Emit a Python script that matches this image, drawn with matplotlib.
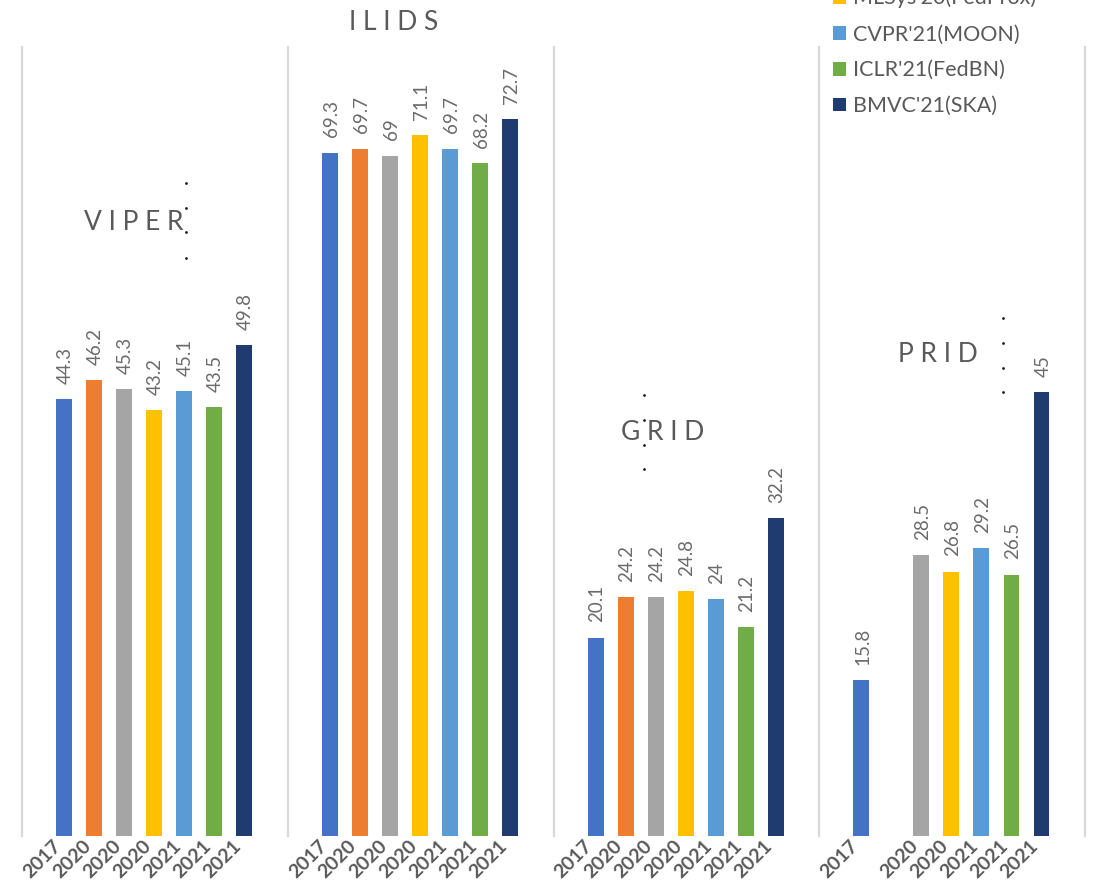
import numpy as np
import matplotlib
matplotlib.use("Agg")
import matplotlib.pyplot as plt
from matplotlib.patches import Patch

plt.rcParams['font.family'] = ['Lato', 'DejaVu Sans']

# data
datasets = ['VIPER', 'ILIDS', 'GRID', 'PRID']
years = ['2017', '2020', '2020', '2020', '2021', '2021', '2021']
viper = [44.3, 46.2, 45.3, 43.2, 45.1, 43.5, 49.8]
ilids = [69.3, 69.7, 69, 71.1, 69.7, 68.2, 72.7]
grid = [20.1, 24.2, 24.2, 24.8, 24, 21.2, 32.2]
prid = [15.8, np.nan, 28.5, 26.8, 29.2, 26.5, 45]
values = [viper, ilids, grid, prid]

colors = ['#4472C4', '#ED7D31', '#A5A5A5', '#FFC000', '#5B9BD5', '#70AD47', '#1F3B70']
legend_labels = ["MLSys'20(FedProx)", "CVPR'21(MOON)", "ICLR'21(FedBN)", "BMVC'21(SKA)"]

# title placement (axes fraction) and the little dotted marks next to some titles
title_pos = [(0.42, 0.778), (0.397, 1.031), (0.41, 0.511), (0.446, 0.61)]
dots = {0: (0.618, [0.828, 0.796, 0.765, 0.733]),
        2: (0.339, [0.559, 0.527, 0.496, 0.465]),
        3: (0.691, [0.657, 0.625, 0.593, 0.563])}

grey = '#595959'
sep = '#D9D9D9'

fig, axes = plt.subplots(1, 4, sharey=True, figsize=(11.02, 8.88), dpi=100)
fig.subplots_adjust(left=0.02, right=0.9846, bottom=0.0586, top=0.947, wspace=0)

x = np.arange(len(years))
for k, ax in enumerate(axes):
    vals = values[k]
    ax.bar(x, vals, width=0.53, color=colors)
    for xi, v in zip(x, vals):
        if np.isnan(v):
            continue
        ax.annotate(f'{v:g}', (xi, v), xytext=(1, 11), textcoords='offset points',
                    rotation=90, ha='center', va='bottom', fontsize=13.5, color='#6b6b6b')
    labs = [y if not np.isnan(v) else '' for y, v in zip(years, vals)]
    ax.set_xticks(x)
    ax.set_xticklabels(labs, rotation=45, ha='right', va='top', fontsize=14,
                       color=grey, fontweight='bold')
    ax.tick_params(axis='x', length=0, pad=1)
    ax.tick_params(axis='y', left=False, labelleft=False)
    ax.set_xlim(-1.4, 7.45)
    ax.set_ylim(0, 80)
    for s in ['top', 'bottom', 'right']:
        ax.spines[s].set_visible(False)
    ax.spines['left'].set_color(sep)
    ax.spines['left'].set_linewidth(1.6)
    if k == 3:
        ax.spines['right'].set_visible(True)
        ax.spines['right'].set_color(sep)
        ax.spines['right'].set_linewidth(1.6)
    tx, ty = title_pos[k]
    ax.text(tx, ty, ' '.join(datasets[k]), transform=ax.transAxes, ha='center',
            va='center', fontsize=19, color=grey, clip_on=False)
    if k in dots:
        dx, dys = dots[k]
        ax.scatter([dx] * len(dys), dys, s=1, color='#222222', transform=ax.transAxes,
                   clip_on=False, zorder=5)

handles = [Patch(facecolor=c) for c in colors[3:]]
fig.legend(handles, legend_labels, loc='lower left', bbox_to_anchor=(0.746, 1 - 127 / 888),
           frameon=False, fontsize=15.5, handlelength=0.6, handleheight=0.6,
           handletextpad=0.35, labelspacing=0.74, labelcolor=grey, borderpad=0)

fig.savefig('out.png', dpi=100)
